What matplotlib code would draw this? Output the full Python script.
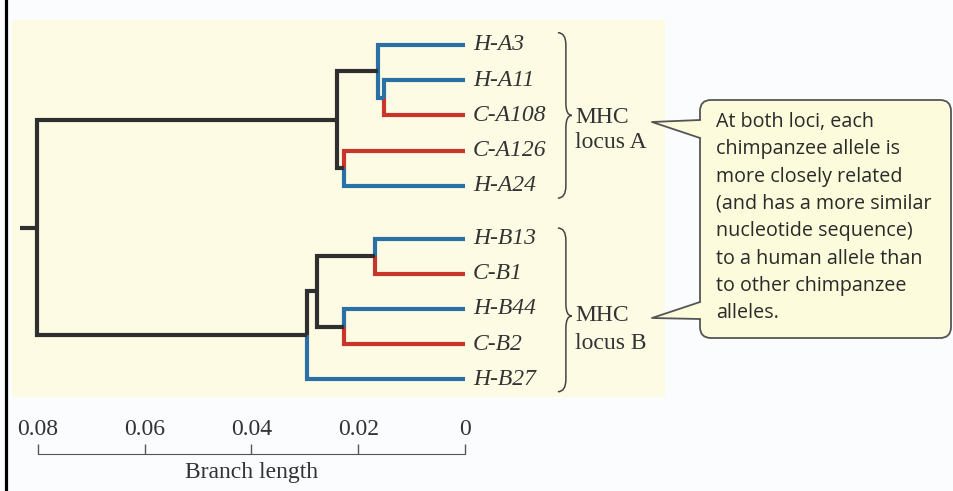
import numpy as np
import matplotlib.pyplot as plt
from matplotlib.patches import FancyBboxPatch, Polygon, PathPatch
from matplotlib.path import Path

# leaves (top to bottom) and their species
leaves = ['H-A3', 'H-A11', 'C-A108', 'C-A126', 'H-A24',
          'H-B13', 'C-B1', 'H-B44', 'C-B2', 'H-B27']
leaf_y = [0, 1, 2, 3, 4, 5.5, 6.5, 7.5, 8.5, 9.5]

# internal nodes: name, children, branch length from tips, colour of branch
node_names = ['n1', 'n2', 'n3', 'nA', 'n4', 'n5', 'n6', 'nB', 'root']
node_children = [('H-A11', 'C-A108'), ('H-A3', 'n1'), ('C-A126', 'H-A24'),
                 ('n2', 'n3'), ('H-B13', 'C-B1'), ('H-B44', 'C-B2'),
                 ('n4', 'n5'), ('n6', 'H-B27'), ('nA', 'nB')]
node_heights = [0.0152, 0.0163, 0.0226, 0.0240, 0.0169, 0.0227, 0.0277, 0.0296, 0.0802]
node_is_human = [True, False, False, False, False, False, False, False, False]
root_stub = 0.0834

scale_ticks = [0.08, 0.06, 0.04, 0.02, 0]
scale_labels = ['0.08', '0.06', '0.04', '0.02', '0']

callout_lines = ['At both loci, each', 'chimpanzee allele is', 'more closely related',
                 '(and has a more similar', 'nucleotide sequence)',
                 'to a human allele than', 'to other chimpanzee', 'alleles.']

BLUE = '#2b6fa7'
RED = '#c8352b'
DARK = '#2f2f2f'

W, H = 954, 491


def fr(left, top, w, h):
    return [left / W, 1 - (top + h) / H, w / W, h / H]


fig = plt.figure(figsize=(9.54, 4.91), dpi=100)
fig.patch.set_facecolor('#fafcfd')

ax = fig.add_axes(fr(12, 20, 653, 377))
ax.set_facecolor('#fdfbe4')
ax.set_xlim(0.08487, -0.03747)
ax.set_ylim(10.0, -0.71)
ax.set_xticks([])
ax.set_yticks([])
for s in ax.spines.values():
    s.set_visible(False)

# positions of every node
pos = {}
color = {}
for name, y in zip(leaves, leaf_y):
    pos[name] = (0.0, y)
    color[name] = BLUE if name.startswith('H') else RED
for name, ch, h, hum in zip(node_names, node_children, node_heights, node_is_human):
    y = np.mean([pos[c][1] for c in ch])
    pos[name] = (h, y)
    color[name] = BLUE if hum else DARK

for name, ch in zip(node_names, node_children):
    px, py = pos[name]
    for c in ch:
        cx, cy = pos[c]
        ax.plot([px, px, cx], [py, cy, cy], color=color[c], lw=3,
                solid_joinstyle='miter', solid_capstyle='butt')

rx, ry = pos['root']
ax.plot([root_stub, rx], [ry, ry], color=DARK, lw=3, solid_capstyle='butt')

# leaf labels
for name, y in zip(leaves, leaf_y):
    ax.text(-0.0015, y, name, fontsize=17, style='italic', family='Liberation Serif',
            va='center', ha='left', color='#333333')


# curly braces
def brace(ax, x0, x1, x2, yt, ym, yb, r):
    verts = [(x0, yt), (x1, yt), (x1, yt + r),
             (x1, ym - r), (x1, ym), (x2, ym),
             (x1, ym), (x1, ym + r),
             (x1, yb - r), (x1, yb), (x0, yb)]
    codes = [Path.MOVETO, Path.CURVE3, Path.CURVE3,
             Path.LINETO, Path.CURVE3, Path.CURVE3,
             Path.CURVE3, Path.CURVE3,
             Path.LINETO, Path.CURVE3, Path.CURVE3]
    ax.add_patch(PathPatch(Path(verts, codes), fill=False, lw=1.1, color='#444444'))


brace(ax, -0.0174, -0.0189, -0.0200, -0.35, 2.0, 4.35, 0.35)
brace(ax, -0.0174, -0.0189, -0.0200, 5.2, 7.7, 9.85, 0.35)

serif = dict(fontsize=17, family='Liberation Serif', va='center', color='#333333')
ax.text(-0.0207, 2.05, 'MHC', **serif)
ax.text(-0.0207, 2.77, 'locus A', **serif)
ax.text(-0.0207, 7.68, 'MHC', **serif)
ax.text(-0.0207, 8.48, 'locus B', **serif)

# scale bar
ax2 = fig.add_axes(fr(12, 453, 653, 1))
ax2.set_xlim(ax.get_xlim())
ax2.set_ylim(0, 1)
ax2.patch.set_visible(False)
for s in ['top', 'left', 'right']:
    ax2.spines[s].set_visible(False)
ax2.spines['bottom'].set_bounds(0, 0.08)
ax2.spines['bottom'].set_color('#555555')
ax2.set_yticks([])
ax2.set_xticks(scale_ticks)
ax2.set_xticklabels(scale_labels, family='Liberation Serif', fontsize=17, color='#333333')
ax2.tick_params(axis='x', direction='in', length=7, width=1, color='#555555', pad=-25)
ax2.text(np.mean(scale_ticks), -18, 'Branch length', family='Liberation Serif', fontsize=17,
         ha='center', va='center', color='#333333')

# overlay in pixel coordinates for the frame line and the callout
ov = fig.add_axes([0, 0, 1, 1])
ov.set_xlim(0, W)
ov.set_ylim(H, 0)
ov.set_axis_off()
ov.plot([6.5, 6.5], [0, H], color='black', lw=2.3)

box_fc = '#fcfbdb'
box_ec = '#555555'
ov.add_patch(FancyBboxPatch((700, 100), 251, 238, boxstyle='round,pad=0,rounding_size=11',
                            fc=box_fc, ec=box_ec, lw=1.3))
for tip, b1, b2 in [((652, 122), (700, 120), (700, 138)),
                    ((652, 318), (700, 302), (700, 319))]:
    ov.add_patch(Polygon([tip, (b1[0] + 2, b1[1]), (b2[0] + 2, b2[1])],
                         closed=True, fc=box_fc, ec='none'))
    ov.plot([b1[0], tip[0], b2[0]], [b1[1], tip[1], b2[1]], color=box_ec, lw=1.3)

for i, line in enumerate(callout_lines):
    ov.text(716, 122 + i * 27.3, line, family='Open Sans', fontsize=14.2,
            va='center', ha='left', color='#2a2a2a')

fig.savefig('out.png', dpi=100, facecolor=fig.get_facecolor())
